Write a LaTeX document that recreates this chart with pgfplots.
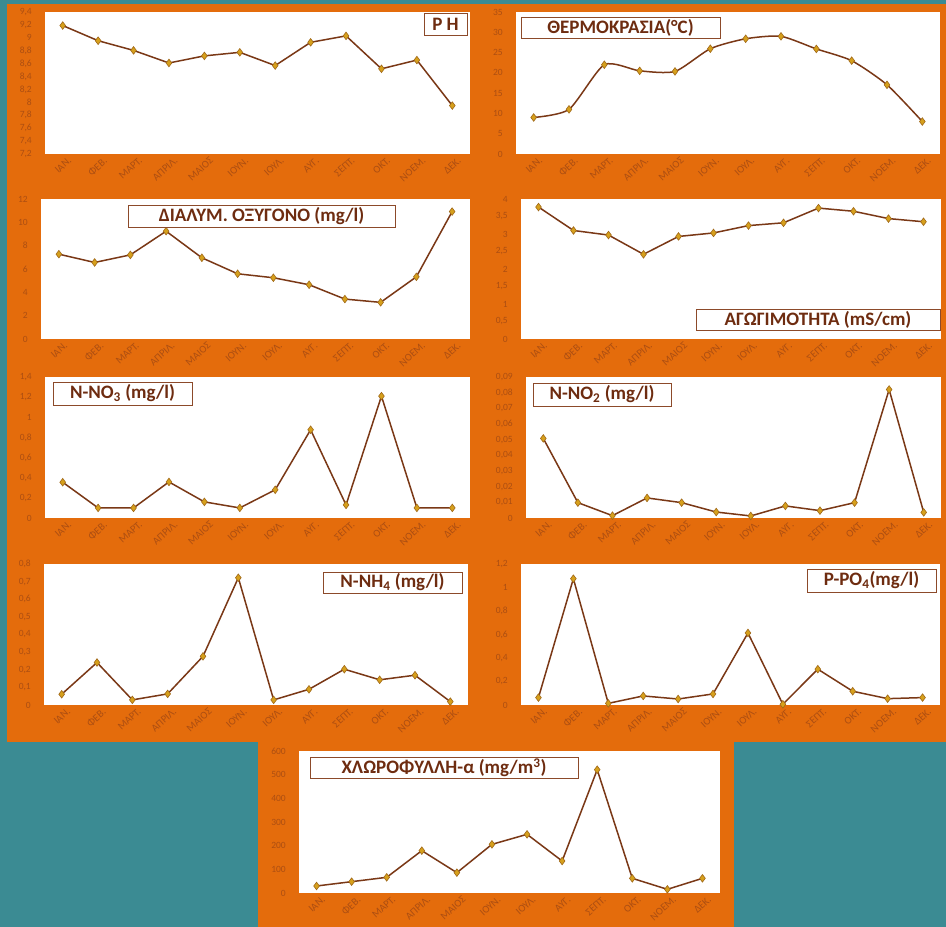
\documentclass[border=0pt]{standalone}
\usepackage{fontspec}
\setmainfont{Carlito}
\usepackage{pgfplots}
\pgfplotsset{compat=1.18}
\definecolor{teal}{RGB}{59,139,147}
\definecolor{orng}{RGB}{228,108,12}
\definecolor{tickcol}{RGB}{172,78,18}
\definecolor{linecol}{RGB}{122,56,22}
\definecolor{markfill}{RGB}{214,160,28}
\definecolor{markedge}{RGB}{160,104,24}
\definecolor{boxedge}{RGB}{140,74,42}
\definecolor{titlecol}{RGB}{110,44,16}
\newcommand{\tfont}{\fontsize{19}{19}\selectfont\bfseries}
\pgfplotsset{panel/.style={
  scale only axis, anchor=south west,
  xmin=-0.5, xmax=11.5,
  xtick={0,...,11},
  xticklabels={ΙΑΝ.,ΦΕΒ.,ΜΑΡΤ.,ΑΠΡΙΛ.,ΜΑΙΟΣ,ΙΟΥΝ.,ΙΟΥΛ.,ΑΥΓ.,ΣΕΠΤ.,ΟΚΤ.,ΝΟΕΜ.,ΔΕΚ.},
  axis background/.style={fill=white},
  axis line style={draw=none},
  major tick length=0pt,
  tick style={draw=none},
  xticklabel style={rotate=42, anchor=north east, font=\fontsize{10.5}{10.5}\selectfont, text=tickcol, inner sep=0pt, yshift=-5pt, xshift=2pt},
  yticklabel style={font=\fontsize{9.5}{9.5}\selectfont, text=tickcol, inner sep=0pt, xshift=-13pt},
  scaled y ticks=false,
  yticklabel style={/pgf/number format/.cd, fixed, use comma, precision=2, 1000 sep={}},
  /pgf/number format/assume math mode=true,
  clip=false,
}}
\tikzset{dat/.style={line width=1.5pt, color=linecol, mark=diamond*, mark size=3.8pt,
     mark options={fill=markfill, draw=markedge, line width=0.6pt}}}
\tikzset{tbox/.style={draw=boxedge, fill=white, line width=0.8pt, text=titlecol, font=\tfont, inner sep=0pt, align=center}}
\begin{document}
\begin{tikzpicture}
\useasboundingbox (0pt,0pt) rectangle (946pt,927pt);
\fill[teal] (0pt,0pt) rectangle (946pt,927pt);
\fill[orng] (7pt,185pt) rectangle (946pt,923pt);
\fill[orng] (258pt,0pt) rectangle (734pt,186pt);

% 1 pH
\begin{axis}[panel, at={(45pt,773pt)}, width=425pt, height=142pt,
  ymin=7.2, ymax=9.4, ytick={7.2,7.4,7.6,7.8,8,8.2,8.4,8.6,8.8,9,9.2,9.4}]
\addplot[dat] coordinates {(0,9.19)(1,8.955)(2,8.805)(3,8.61)(4,8.72)(5,8.775)(6,8.57)(7,8.93)(8,9.03)(9,8.52)(10,8.655)(11,7.95)};
\end{axis}
% 2 Temperature
\begin{axis}[panel, at={(516pt,773pt)}, width=424pt, height=142pt,
  ymin=0, ymax=35, ytick={0,5,10,15,20,25,30,35}]
\addplot[dat, smooth, tension=0.4] coordinates {(0,9)(1,11)(2,22)(3,20.5)(4,20.35)(5,25.95)(6,28.4)(7,29)(8,25.9)(9,23)(10,17.05)(11,8)};
\end{axis}
% 3 DO
\begin{axis}[panel, at={(41pt,588pt)}, width=429pt, height=140pt,
  ymin=0, ymax=12, ytick={0,2,4,6,8,10,12}]
\addplot[dat] coordinates {(0,7.27)(1,6.56)(2,7.21)(3,9.24)(4,6.96)(5,5.59)(6,5.25)(7,4.65)(8,3.42)(9,3.14)(10,5.33)(11,10.92)};
\end{axis}
% 4 Conductivity
\begin{axis}[panel, at={(521pt,588pt)}, width=420pt, height=140pt,
  ymin=0, ymax=4, ytick={0,0.5,1,1.5,2,2.5,3,3.5,4}]
\addplot[dat] coordinates {(0,3.77)(1,3.10)(2,2.97)(3,2.42)(4,2.93)(5,3.03)(6,3.24)(7,3.32)(8,3.74)(9,3.65)(10,3.44)(11,3.35)};
\end{axis}
% 5 NO3
\begin{axis}[panel, at={(45pt,409pt)}, width=425pt, height=141pt,
  ymin=0, ymax=1.4, ytick={0,0.2,0.4,0.6,0.8,1,1.2,1.4}]
\addplot[dat] coordinates {(0,0.355)(1,0.10)(2,0.10)(3,0.358)(4,0.16)(5,0.10)(6,0.28)(7,0.876)(8,0.13)(9,1.21)(10,0.10)(11,0.10)};
\end{axis}
% 6 NO2
\begin{axis}[panel, at={(526pt,409pt)}, width=415pt, height=141pt,
  ymin=0, ymax=0.09, ytick={0,0.01,0.02,0.03,0.04,0.05,0.06,0.07,0.08,0.09}]
\addplot[dat] coordinates {(0,0.0508)(1,0.0098)(2,0.0015)(3,0.0128)(4,0.0098)(5,0.0038)(6,0.0013)(7,0.0077)(8,0.0047)(9,0.0098)(10,0.082)(11,0.0036)};
\end{axis}
% 7 NH4
\begin{axis}[panel, at={(44pt,222pt)}, width=424pt, height=141pt,
  ymin=0, ymax=0.8, ytick={0,0.1,0.2,0.3,0.4,0.5,0.6,0.7,0.8}]
\addplot[dat] coordinates {(0,0.061)(1,0.241)(2,0.029)(3,0.063)(4,0.276)(5,0.722)(6,0.029)(7,0.089)(8,0.203)(9,0.143)(10,0.169)(11,0.019)};
\end{axis}
% 8 PO4
\begin{axis}[panel, at={(521pt,222pt)}, width=419pt, height=141pt,
  ymin=0, ymax=1.2, ytick={0,0.2,0.4,0.6,0.8,1,1.2}]
\addplot[dat] coordinates {(0,0.063)(1,1.075)(2,0.014)(3,0.077)(4,0.051)(5,0.094)(6,0.613)(7,0.006)(8,0.305)(9,0.117)(10,0.054)(11,0.063)};
\end{axis}
% 9 Chlorophyll
\begin{axis}[panel, at={(299pt,34pt)}, width=421pt, height=142pt,
  ymin=0, ymax=600, ytick={0,100,200,300,400,500,600}]
\addplot[dat] coordinates {(0,29.6)(1,47.9)(2,66.2)(3,178.9)(4,85.9)(5,205.6)(6,247.9)(7,135.2)(8,521)(9,62)(10,15.5)(11,62)};
\end{axis}

% title boxes
\node[tbox, minimum width=43pt, minimum height=22pt] at (445.5pt,903pt) {P H};
\node[tbox, minimum width=199pt, minimum height=21pt] at (620.5pt,899.5pt) {ΘΕΡΜΟΚΡΑΣΙΑ(°C)};
\node[tbox, minimum width=267pt, minimum height=22pt] at (261.5pt,711pt) {ΔΙΑΛΥΜ. ΟΞΥΓΟΝΟ (mg/l)};
\node[tbox, minimum width=244pt, minimum height=21pt] at (818pt,607.5pt) {ΑΓΩΓΙΜΟΤΗΤΑ (mS/cm)};
\node[tbox, minimum width=139pt, minimum height=23pt] at (122.5pt,533.5pt) {N-NO\textsubscript{3} (mg/l)};
\node[tbox, minimum width=138pt, minimum height=23pt] at (602pt,532.5pt) {N-NO\textsubscript{2} (mg/l)};
\node[tbox, minimum width=139pt, minimum height=21pt] at (392.5pt,344.5pt) {N-NH\textsubscript{4} (mg/l)};
\node[tbox, minimum width=129pt, minimum height=23pt] at (871.5pt,346.5pt) {P-PO\textsubscript{4}(mg/l)};
\node[tbox, minimum width=268pt, minimum height=21pt] at (444pt,159.5pt) {ΧΛΩΡΟΦΥΛΛΗ-α (mg/m\textsuperscript{3})};
\end{tikzpicture}
\end{document}
